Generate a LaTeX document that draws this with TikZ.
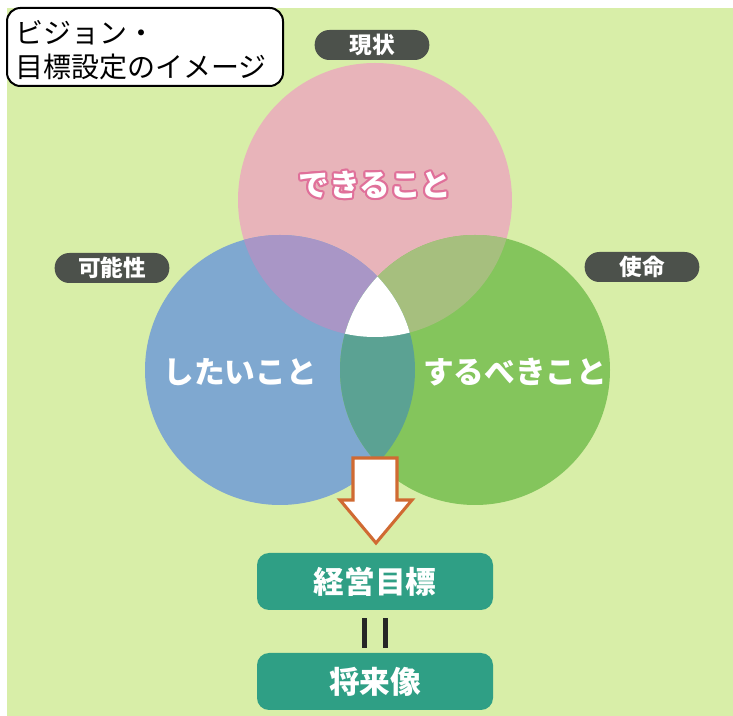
\documentclass[tikz,border=0pt]{standalone}
\usepackage{fontspec}
\newfontfamily\jp{Noto Sans CJK JP}
\usetikzlibrary{calc}
\definecolor{bggreen}{HTML}{D8EEA8}
\definecolor{pinkc}{HTML}{E8B4BA}
\definecolor{bluec}{HTML}{7FA8D0}
\definecolor{greenc}{HTML}{84C55C}
\definecolor{pinkblue}{HTML}{A996C6}
\definecolor{pinkgreen}{HTML}{A6BF7E}
\definecolor{bluegreen}{HTML}{5BA293}
\definecolor{pillc}{HTML}{4C514B}
\definecolor{goalc}{HTML}{2F9F85}
\definecolor{arrowc}{HTML}{D06A32}
\definecolor{pinkline}{HTML}{E0709A}
\begin{document}
\begin{tikzpicture}[x=0.75pt,y=-0.75pt,font=\jp,
  pill/.style={fill=pillc,text=white,rounded corners=11pt,minimum width=86pt,minimum height=22.5pt,inner sep=0pt,font=\jp\bfseries\fontsize{17}{17}\selectfont},
  circtext/.style={text=white,inner sep=0pt,font=\jp\bfseries\fontsize{23}{23}\selectfont},
  goalbox/.style={fill=goalc,text=white,rounded corners=9pt,minimum width=177pt,minimum height=42.75pt,inner sep=0pt,font=\jp\bfseries\fontsize{23}{23}\selectfont},
  titletext/.style={anchor=west,inner sep=0pt,font=\jp\fontsize{21}{21}\selectfont},
  bar/.style={line width=3.75pt,draw=black!85},
  arrowst/.style={fill=white,draw=arrowc,line width=2.3pt,line join=miter}]
\useasboundingbox (0,0) rectangle (733,716);
\fill[white] (0,0) rectangle (733,716);
\fill[bggreen] (7,8) rectangle (733,716);
% circles
\def\pinkc{(375,200) circle (102.75pt)}
\def\bluec{(280,370) circle (101.25pt)}
\def\greenc{(475,370) circle (101.25pt)}
\fill[pinkc] \pinkc;
\fill[bluec] \bluec;
\fill[greenc] \greenc;
\begin{scope}\clip \pinkc; \fill[pinkblue] \bluec;\end{scope}
\begin{scope}\clip \pinkc; \fill[pinkgreen] \greenc;\end{scope}
\begin{scope}\clip \bluec; \fill[bluegreen] \greenc;\end{scope}
\begin{scope}\clip \pinkc; \clip \bluec; \fill[white] \greenc;\end{scope}
% circle texts
\foreach \a in {0,30,...,330}
  \node[circtext,text=pinkline,shift={(\a:1.5pt)}] at (375,185) {できること};
\node[circtext] (dekiru) at (375,185) {できること};
\node[circtext] (shitai) at (240,372) {したいこと};
\node[circtext] (surubeki) at (515,372) {するべきこと};
% pills
\node[pill] (genjo) at (372,45) {現状};
\node[pill] (kanosei) at (112,268) {可能性};
\node[pill] (shimei) at (642,267) {使命};
% title
\draw[rounded corners=10pt,line width=1.5pt,fill=white] (7,8) rectangle (283,86);
\node[titletext] (t1) at (15,33) {ビジョン・};
\node[titletext] (t2) at (15,67) {目標設定のイメージ};
% arrow
\draw[arrowst] (353,458) -- (397,458) -- (397,500) -- (412,500) -- (376,543) -- (340,500) -- (353,500) -- cycle;
% goal boxes
\node[goalbox] (mokuhyo) at (375,581.5) {経営目標};
\node[goalbox] (shorai) at (375,681.5) {将来像};
\draw[bar] ($(mokuhyo.south)+(-11,8)$) -- ($(shorai.north)+(-11,-5)$);
\draw[bar] ($(mokuhyo.south)+(10,8)$) -- ($(shorai.north)+(10,-5)$);
\end{tikzpicture}
\end{document}
